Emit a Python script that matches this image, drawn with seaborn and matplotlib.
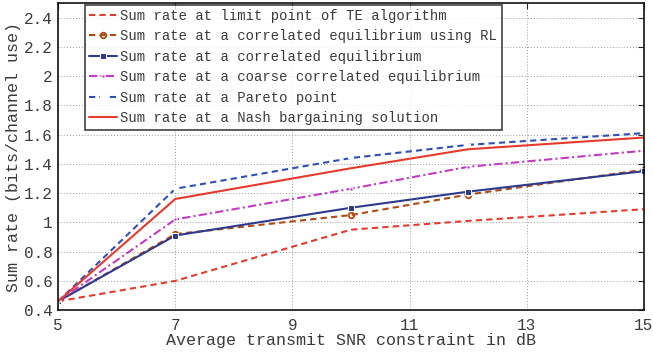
import matplotlib
matplotlib.use("Agg")
import matplotlib.pyplot as plt
import seaborn as sns
import pandas as pd

snr_db = [5, 7, 10, 12, 15]
te_limit = [0.46, 0.60, 0.95, 1.01, 1.09]
ce_rl = [0.46, 0.92, 1.05, 1.19, 1.36]
ce = [0.46, 0.91, 1.10, 1.21, 1.35]
cce = [0.46, 1.02, 1.23, 1.38, 1.49]
pareto = [0.46, 1.23, 1.44, 1.53, 1.61]
nash = [0.46, 1.16, 1.37, 1.50, 1.58]

labels = [
    "Sum rate at limit point of TE algorithm",
    "Sum rate at a correlated equilibrium using RL",
    "Sum rate at a correlated equilibrium",
    "Sum rate at a coarse correlated equilibrium",
    "Sum rate at a Pareto point",
    "Sum rate at a Nash bargaining solution",
]
xticks = [5, 7, 9, 11, 13, 15]
yticks = [0.4, 0.6, 0.8, 1, 1.2, 1.4, 1.6, 1.8, 2, 2.2, 2.4]

sns.set_theme(style="white")
plt.rcParams["font.family"] = ["Liberation Mono", "DejaVu Sans Mono"]
txt = "#3a3a3a"

fig = plt.figure(figsize=(6.53, 3.54), dpi=100)
ax = fig.add_axes([0.089, 0.124, 0.897, 0.8675])

styles = [
    (te_limit, dict(color="#e53a2e", linestyle=(0, (3, 2)), marker=None, lw=1.5)),
    (ce_rl, dict(color="#b04a14", linestyle=(0, (3, 2)), marker="o", ms=4,
                 mfc="none", mec="#b04a14", mew=1.3, lw=1.5)),
    (ce, dict(color="#2e3a8c", linestyle="-", marker="s", ms=4, lw=1.5)),
    (cce, dict(color="#c03cc0", linestyle=(0, (4, 1.5, 1, 1.5)), marker=".", ms=5, lw=1.5)),
    (pareto, dict(color="#3050b4", linestyle=(0, (3, 2)), marker="+", ms=4, mew=1.6, lw=1.5)),
    (nash, dict(color="#e53a2e", linestyle="-", marker=None, lw=1.5)),
]

for (vals, st), lab in zip(styles, labels):
    df = pd.DataFrame({"snr": snr_db, "rate": vals})
    sns.lineplot(data=df, x="snr", y="rate", ax=ax, label=lab, **st)

ax.set_xlim(5, 15)
ax.set_ylim(0.4, 2.5)
ax.set_xticks(xticks)
ax.set_yticks(yticks)
ax.set_xticklabels([str(v) for v in xticks])
ax.set_yticklabels([f"{v:g}" for v in yticks])
ax.grid(True, linestyle=(0, (1, 2)), color="#999999", linewidth=0.7)
ax.tick_params(direction="in", top=True, right=True, length=4, width=0.8,
               labelsize=11.5, colors="#222222", labelcolor=txt)
ax.tick_params(axis="x", pad=6)
ax.tick_params(axis="y", pad=4)
for s in ax.spines.values():
    s.set_visible(True)
    s.set_color("#111111")
    s.set_linewidth(1.2)

ax.set_xlabel("Average transmit SNR constraint in dB", fontsize=12, color=txt, labelpad=0)
ax.set_ylabel("Sum rate (bits/channel use)", fontsize=12, color=txt, labelpad=2)

leg = ax.legend(loc="upper left", bbox_to_anchor=(0.046, 0.995), fontsize=10,
                frameon=True, fancybox=False, edgecolor="#111111",
                handlelength=2.0, handletextpad=0.25, borderpad=0.3,
                labelspacing=0.47, borderaxespad=0)
leg.get_frame().set_linewidth(1.2)
for t in leg.get_texts():
    t.set_color(txt)

fig.savefig("out.png", dpi=100)
